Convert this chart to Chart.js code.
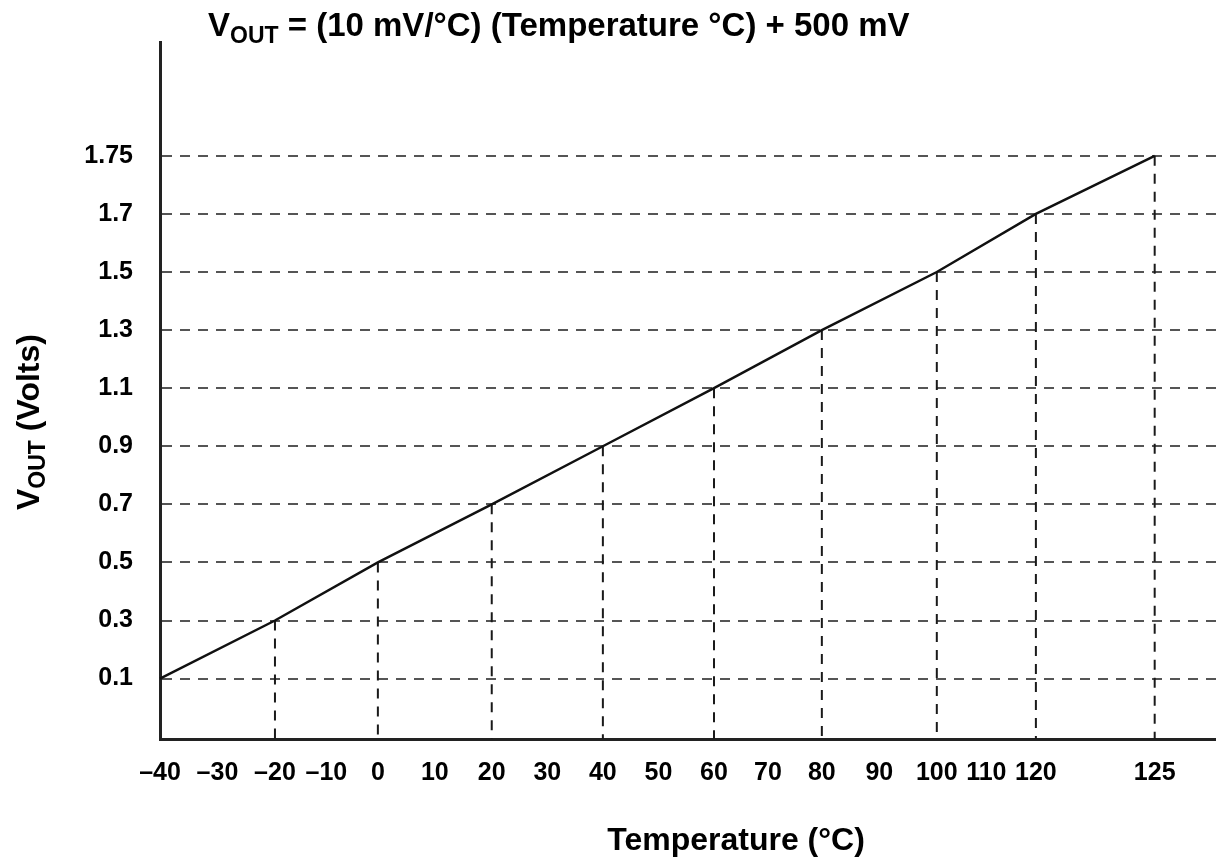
<!DOCTYPE html>
<html>
<head>
<meta charset="utf-8">
<script src="https://cdn.jsdelivr.net/npm/chart.js@4.4.1/dist/chart.umd.min.js"></script>
<style>
  html, body { margin: 0; padding: 0; background: #fff; }
  canvas { display: block; }
</style>
</head>
<body>
<canvas id="chart" width="1216" height="858"></canvas>
<script>
// transfer curve points (temperature in °C, output in volts)
const temperatures = [-40, -20, 0, 20, 40, 60, 80, 100, 120, 125];
const voutVolts = [0.1, 0.3, 0.5, 0.7, 0.9, 1.1, 1.3, 1.5, 1.7, 1.75];

// axis tick labels
const xTickValues = [-40, -30, -20, -10, 0, 10, 20, 30, 40, 50, 60, 70, 80, 90, 100, 110, 120, 125];
const yTickValues = [0.1, 0.3, 0.5, 0.7, 0.9, 1.1, 1.3, 1.5, 1.7, 1.75];

const titleText = " = (10 mV/°C) (Temperature °C) + 500 mV";
const yTitleText = " (Volts)";
const xTitleText = "Temperature (°C)";

const FONT = '"Liberation Sans", Arial, Helvetica, sans-serif';

// The printed axes are not evenly spaced (125 sits far past 120, 1.75 a full
// step above 1.7), so use a piecewise linear scale defined by knots.
class PiecewiseScale extends Chart.Scale {
  static id = "piecewise";
  static defaults = {};

  parse(raw) {
    return raw == null ? raw : Number(raw);
  }
  toSlot(v) {
    const k = this.options.knots;
    let i = 0;
    while (i < k.length - 2 && v > k[i + 1][0]) i++;
    const [v0, s0] = k[i], [v1, s1] = k[i + 1];
    return s0 + (v - v0) * (s1 - s0) / (v1 - v0);
  }
  fromSlot(s) {
    const k = this.options.knots;
    let i = 0;
    while (i < k.length - 2 && s > k[i + 1][1]) i++;
    const [v0, s0] = k[i], [v1, s1] = k[i + 1];
    return v0 + (s - s0) * (v1 - v0) / (s1 - s0);
  }
  determineDataLimits() {
    this.min = this.options.slotMin;
    this.max = this.options.slotMax;
  }
  buildTicks() {
    return this.options.tickValues.map(v => ({ value: v }));
  }
  getLabelForValue(v) {
    return String(v);
  }
  getPixelForValue(v) {
    if (v == null || isNaN(v)) return NaN;
    return this.getPixelForDecimal((this.toSlot(v) - this.min) / (this.max - this.min));
  }
  getValueForPixel(p) {
    return this.fromSlot(this.min + this.getDecimalForPixel(p) * (this.max - this.min));
  }
  getPixelForTick(i) {
    const t = this.ticks[i];
    return t ? this.getPixelForValue(t.value) : NaN;
  }
}
Chart.register(PiecewiseScale);

// dashed drop lines from each curve point down to the x axis
const dropLines = {
  id: "dropLines",
  beforeDatasetsDraw(chart) {
    const { ctx, chartArea } = chart;
    const meta = chart.getDatasetMeta(0);
    ctx.save();
    ctx.strokeStyle = "#1a1a1a";
    ctx.lineWidth = 2;
    ctx.setLineDash([10, 8]);
    meta.data.forEach(pt => {
      if (pt.x <= chartArea.left + 2) return;
      ctx.beginPath();
      ctx.moveTo(pt.x, pt.y);
      ctx.lineTo(pt.x, chartArea.bottom);
      ctx.stroke();
    });
    ctx.restore();
  }
};

function drawParts(ctx, parts, x, y) {
  parts.forEach(([text, size, dy]) => {
    ctx.font = "bold " + size + "px " + FONT;
    ctx.fillText(text, x, y + dy);
    x += ctx.measureText(text).width;
  });
}

// title and axis titles with the V_OUT subscript
const labels = {
  id: "labels",
  afterDraw(chart) {
    const { ctx } = chart;
    ctx.save();
    ctx.fillStyle = "#000";
    ctx.textBaseline = "alphabetic";
    ctx.textAlign = "left";
    drawParts(ctx, [["V", 33, 0], ["OUT", 23, 7], [titleText, 33, 0]], 208, 36);

    ctx.save();
    ctx.translate(39, 510);
    ctx.rotate(-Math.PI / 2);
    drawParts(ctx, [["V", 32, 0], ["OUT", 23, 6], [yTitleText, 32, 0]], 0, 0);
    ctx.restore();

    ctx.font = "bold 32px " + FONT;
    ctx.textAlign = "center";
    ctx.fillText(xTitleText, 736, 850);
    ctx.restore();
  }
};

const tickFont = { family: FONT, size: 25, weight: "bold" };

new Chart(document.getElementById("chart"), {
  type: "line",
  data: {
    datasets: [{
      data: temperatures.map((t, i) => ({ x: t, y: voutVolts[i] })),
      borderColor: "#111",
      borderWidth: 2.5,
      pointRadius: 0,
      tension: 0,
      fill: false
    }]
  },
  options: {
    responsive: false,
    animation: false,
    devicePixelRatio: 1,
    events: [],
    layout: { padding: { top: 40, right: 0, bottom: 0, left: 0 } },
    plugins: {
      legend: { display: false },
      tooltip: { enabled: false }
    },
    scales: {
      x: {
        type: "piecewise",
        position: "bottom",
        knots: [[-40, 0], [-20, 2.1], [0, 3.98], [20, 6.06], [40, 8.09], [60, 10.12],
                [80, 12.09], [100, 14.19], [120, 16], [125, 18.17]],
        slotMin: 0,
        slotMax: 19.29,
        tickValues: xTickValues,
        grid: { display: false, drawTicks: false },
        border: { display: true, color: "#222", width: 3 },
        ticks: {
          autoSkip: false,
          maxRotation: 0,
          padding: 19,
          color: "#000",
          font: tickFont,
          callback: v => (v < 0 ? "\u2013" + Math.abs(v) : String(v))
        },
        afterFit: s => { s.height = 119; }
      },
      y: {
        type: "piecewise",
        position: "left",
        knots: [[0.1, 0], [1.7, 8], [1.75, 9]],
        slotMin: -1.04,
        slotMax: 10.96,
        tickValues: yTickValues,
        grid: { color: "#555", lineWidth: 2, drawTicks: false },
        border: { display: true, color: "#222", width: 3, dash: [10, 8] },
        ticks: {
          autoSkip: false,
          padding: 27,
          color: "#000",
          font: tickFont,
          callback: v => String(v)
        },
        afterFit: s => { s.width = 160; }
      }
    }
  },
  plugins: [dropLines, labels]
});
</script>
</body>
</html>
